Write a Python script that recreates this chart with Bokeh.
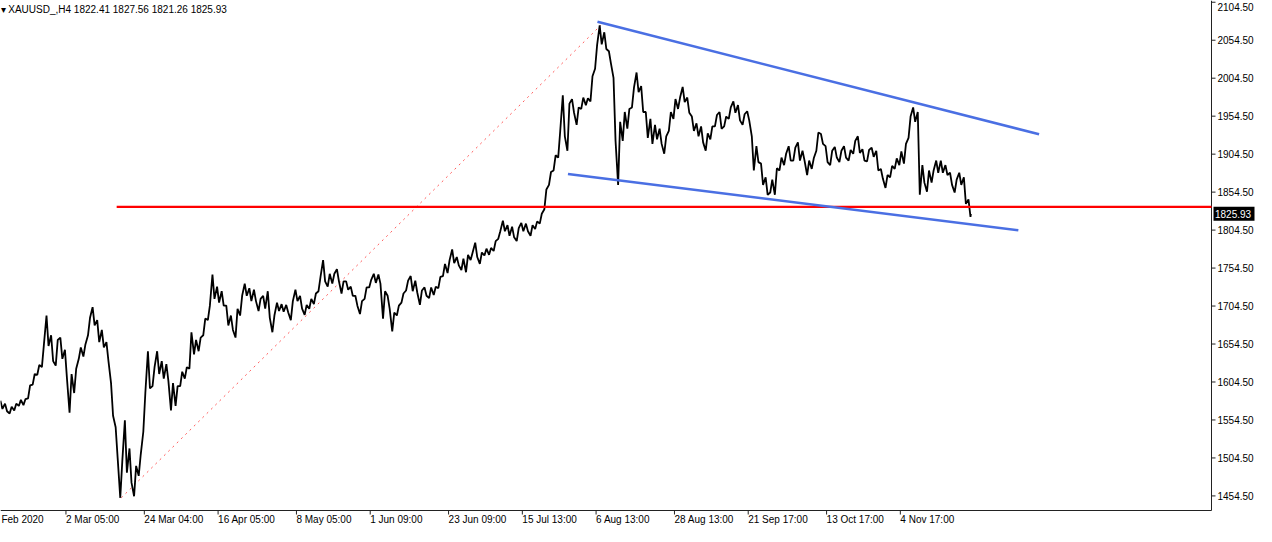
import numpy as np
from bokeh.plotting import figure
from bokeh.models import Range1d
from bokeh.core.properties import value
from bokeh.embed import file_html
from bokeh.resources import INLINE

# ---- data (approximate daily high / low of XAUUSD) ----
highs = [1580,1576,1572,1576,1581,1582,1600,1615,1627,1654,
         1692,1666,1660,1663,1647,1615,1622,1650,1654,1689,
         1703,1686,1673,1657,1603,1545,1500,1554,1517,1494,
         1509,1590,1645,1624,1645,1632,1628,1603,1599,1618,
         1624,1670,1660,1663,1688,1705,1746,1730,1724,1705,
         1692,1701,1718,1734,1728,1726,1714,1718,1724,1692,
         1709,1707,1706,1711,1726,1718,1706,1714,1721,1743,
         1765,1747,1747,1753,1737,1737,1730,1718,1711,1729,
         1739,1747,1746,1724,1718,1696,1705,1721,1738,1744,
         1738,1725,1729,1729,1730,1743,1760,1765,1779,1769,
         1767,1772,1775,1788,1775,1780,1781,1790,1803,1817,
         1811,1809,1807,1814,1813,1811,1816,1826,1858,1881,
         1903,1935,1982,1971,1977,1966,1979,1978,2007,2048,
         2074,2065,2040,2005,1947,1960,1964,1992,2012,1994,
         1960,1951,1943,1938,1928,1960,1977,1979,1993,1979,
         1954,1945,1941,1932,1941,1956,1960,1954,1966,1974,
         1969,1957,1961,1928,1915,1892,1874,1871,1886,1900,
         1905,1915,1913,1920,1909,1896,1899,1933,1931,1915,
         1909,1914,1909,1915,1910,1922,1928,1911,1910,1913,
         1909,1885,1877,1889,1899,1908,1918,1954,1966,1960,
         1890,1883,1883,1896,1896,1890,1880,1871,1880,1874,
         1845]
lows = [1569,1566,1563,1567,1573,1574,1583,1601,1614,1624,
        1652,1632,1626,1635,1609,1564,1590,1635,1638,1666,
        1679,1657,1650,1632,1560,1504,1452,1485,1472,1454,
        1481,1539,1596,1599,1615,1609,1606,1567,1573,1599,
        1609,1622,1641,1645,1666,1686,1714,1709,1705,1679,
        1673,1663,1692,1718,1711,1711,1698,1701,1689,1670,
        1698,1697,1696,1686,1711,1701,1693,1701,1707,1724,
        1737,1730,1734,1737,1721,1726,1718,1705,1694,1714,
        1729,1735,1734,1688,1701,1671,1692,1709,1725,1724,
        1722,1706,1718,1715,1719,1728,1744,1748,1761,1758,
        1752,1749,1765,1769,1760,1771,1772,1777,1793,1803,
        1797,1795,1790,1803,1803,1797,1806,1813,1832,1864,
        1883,1900,1928,1909,1959,1943,1964,1969,1974,2017,
        2049,2043,2024,1922,1864,1922,1938,1966,1986,1960,
        1926,1918,1924,1918,1905,1935,1951,1964,1973,1959,
        1935,1928,1920,1909,1924,1941,1938,1941,1951,1959,
        1949,1943,1949,1883,1894,1864,1851,1854,1851,1883,
        1890,1896,1896,1896,1896,1877,1885,1909,1918,1894,
        1890,1900,1894,1900,1896,1905,1906,1896,1895,1901,
        1883,1872,1860,1874,1885,1890,1892,1926,1947,1851,
        1867,1855,1867,1880,1880,1877,1864,1854,1864,1839,
        1822]

header_ohlc = [1822.41, 1827.56, 1821.26, 1825.93]
symbol = "XAUUSD_,H4"

x_tick_bars = [0, 14, 31, 47, 64, 80, 97, 113, 129, 146, 162, 179, 195]
x_tick_labels = ["Feb 2020", "2 Mar 05:00", "24 Mar 04:00", "16 Apr 05:00", "8 May 05:00",
                 "1 Jun 09:00", "23 Jun 09:00", "15 Jul 13:00", "6 Aug 13:00",
                 "28 Aug 13:00", "21 Sep 17:00", "13 Oct 17:00", "4 Nov 17:00"]
y_ticks = [1454.5, 1504.5, 1554.5, 1604.5, 1654.5, 1704.5, 1754.5, 1804.5,
           1854.5, 1904.5, 1954.5, 2004.5, 2054.5, 2104.5]

support_level = 1835.0
support_start_bar = 25
upper_trend_x = [129.3, 225.1]
upper_trend_y = [2078.7, 1930.6]
lower_trend_x = [122.9, 220.6]
lower_trend_y = [1878.3, 1804.3]

FONT = "Liberation Sans"
FS = "10px"

# ---- layout (pixels) ----
W, H = 1256, 526
AXIS_W, AXIS_H = 45, 16
x0, x1 = -0.2, 262.5        # visible bar range of the price area
y0, y1 = 1435.3, 2106.8     # visible price range of the price area
dx = (x1 - x0) / (W - AXIS_W)
dy = (y1 - y0) / (H - AXIS_H)
X_END = x1 + AXIS_W * dx
Y_START = y0 - AXIS_H * dy

# ---- build bar path ----
n = len(highs)
last_close = header_ohlc[3]
px, py = [], []
for i in range(n):
    mid = (highs[i] + lows[i]) / 2
    nxt = (highs[i + 1] + lows[i + 1]) / 2 if i + 1 < n else last_close
    seq = (lows[i], highs[i]) if nxt > mid else (highs[i], lows[i])
    px += [i - 0.22, i + 0.22]
    py += list(seq)
px.append(n - 1 + 0.3)
py.append(last_close)

p = figure(width=W, height=H, output_backend="svg", toolbar_location=None,
           x_range=Range1d(x0, X_END), y_range=Range1d(Y_START, y1),
           x_axis_location=None, y_axis_location=None, min_border=0)
p.outline_line_color = None
p.grid.visible = False
p.xgrid.grid_line_color = None
p.ygrid.grid_line_color = None
p.background_fill_color = "white"
p.border_fill_color = "white"

AX_COL = "#222222"

# ---- price-scale (right) ----
p.segment(x0=[x1], y0=[y0], x1=[x1], y1=[y1], line_color=AX_COL, line_width=1)
p.segment(x0=[x1] * len(y_ticks), y0=y_ticks, x1=[x1 + 4 * dx] * len(y_ticks), y1=y_ticks,
          line_color=AX_COL, line_width=1)
label_y = [min(v, y1 - 6 * dy) for v in y_ticks]   # keep the topmost label inside
p.text(x=[x1 + 6 * dx] * len(y_ticks), y=label_y, text=[f"{v:.2f}" for v in y_ticks],
       text_font=value(FONT), text_font_size=value(FS), text_color="black",
       text_align="left", text_baseline="middle")

# ---- time-scale (bottom) ----
p.segment(x0=[x0], y0=[y0], x1=[x1], y1=[y0], line_color=AX_COL, line_width=1)
tb = x_tick_bars[1:]
p.segment(x0=tb, y0=[y0] * len(tb), x1=tb, y1=[y0 - 4 * dy] * len(tb),
          line_color=AX_COL, line_width=1)
lab_x = [max(b, x0) for b in x_tick_bars]
p.text(x=lab_x, y=[y0 - 3 * dy] * len(lab_x), text=x_tick_labels,
       text_font=value(FONT), text_font_size=value(FS), text_color="black",
       text_align="left", text_baseline="top")

# dotted line from the low to the high
i_lo = int(np.argmin(lows))
i_hi = int(np.argmax(highs))
p.line([i_lo, i_hi], [lows[i_lo], highs[i_hi]], line_color="#ff5a5a", line_width=1,
       line_dash="2 4")

# price bars
p.line(px, py, line_color="black", line_width=1.8)

# horizontal level
p.segment(x0=[support_start_bar], y0=[support_level], x1=[x1], y1=[support_level],
          line_color="#ff0000", line_width=2.2)

# channel lines
p.line(upper_trend_x, upper_trend_y, line_color="#4a6fe3", line_width=2.6)
p.line(lower_trend_x, lower_trend_y, line_color="#4a6fe3", line_width=2.6)

# header
hdr = "\u25be " + symbol + "  " + " ".join(f"{v:.2f}" for v in header_ohlc)
p.text(x=[x0], y=[y1 - 3 * dy], text=[hdr], text_font=value(FONT),
       text_font_size=value(FS), text_color="black", text_align="left", text_baseline="top")

# last price tag
p.quad(left=[x1 + 2 * dx], right=[x1 + 43 * dx], top=[last_close + 7 * dy],
       bottom=[last_close - 7 * dy], fill_color="black", line_color=None)
p.text(x=[x1 + 3.5 * dx], y=[last_close], text=[f"{last_close:.2f}"], text_font=value(FONT),
       text_font_size=value(FS), text_color="white", text_align="left",
       text_baseline="middle")

open("out.html", "w").write(file_html(p, INLINE))
